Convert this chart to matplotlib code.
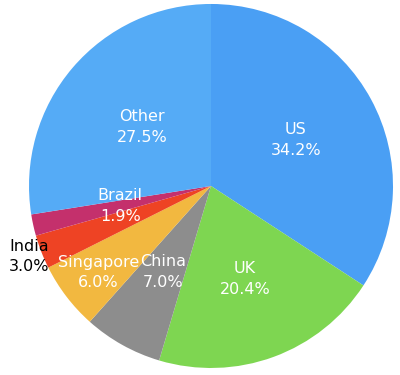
import numpy as np
import matplotlib
matplotlib.use("Agg")
import matplotlib.pyplot as plt

labels = ["US", "UK", "China", "Singapore", "India", "Brazil", "Other"]
values = [34.2, 20.4, 7.0, 6.0, 3.0, 1.9, 27.5]
colors = ["#4a9ff4", "#7ed651", "#8d8d8d", "#f2b840", "#ee4324", "#c4306c", "#55abf6"]
label_dist = [0.53, 0.545, 0.54, 0.78, 1.07, 0.51, 0.5]
text_colors = ["white", "white", "white", "white", "black", "white", "white"]

fig = plt.figure(figsize=(4, 3.75), dpi=100)
ax = fig.add_axes([0.0725, 0.0187, 0.91, 0.9707])
wedges, _ = ax.pie(values, colors=colors, startangle=90, counterclock=False,
                   radius=1.0, wedgeprops=dict(linewidth=0))
ax.set_xlim(-1, 1)
ax.set_ylim(-1, 1)
ax.set_aspect("auto")
ax.axis("off")

for w, lab, val, d, tc in zip(wedges, labels, values, label_dist, text_colors):
    ang = np.deg2rad((w.theta1 + w.theta2) / 2)
    x, y = d * np.cos(ang), d * np.sin(ang)
    ax.text(x, y, f"{lab}\n{val:.1f}%", ha="center", va="center", color=tc,
            fontsize=11.5, linespacing=1.45, family="DejaVu Sans")

fig.savefig("out.png", dpi=100)
